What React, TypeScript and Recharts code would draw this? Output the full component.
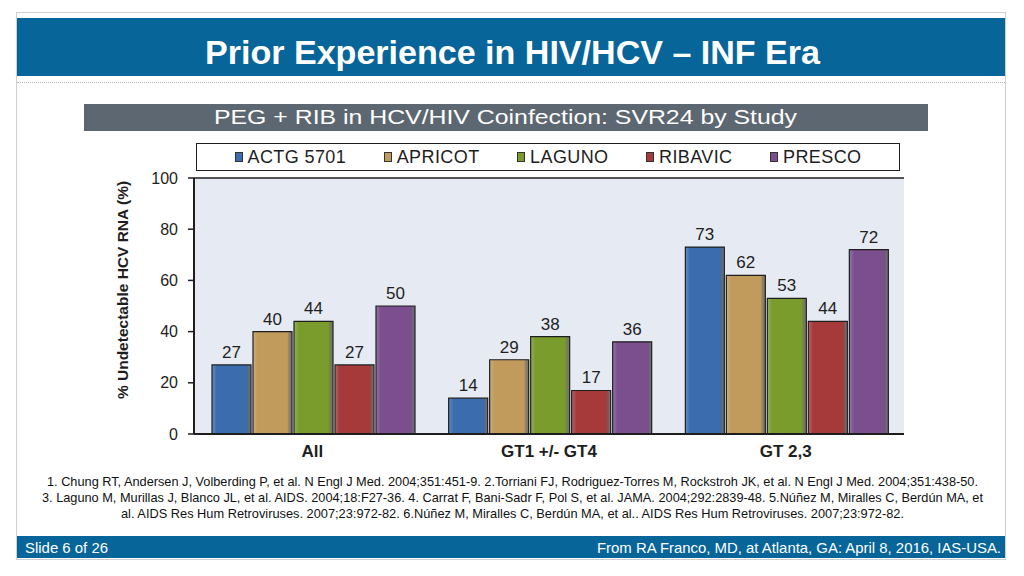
import { Bar, BarChart, CartesianGrid, LabelList, ReferenceLine, XAxis, YAxis } from "recharts";

// SVR24 by study, PEG + RIB in HCV/HIV coinfection
const categories = ["All", "GT1 +/- GT4", "GT 2,3"];
const studies = ["ACTG 5701", "APRICOT", "LAGUNO", "RIBAVIC", "PRESCO"];
const actg5701 = [27, 14, 73];
const apricot = [40, 29, 62];
const laguno = [44, 38, 53];
const ribavic = [27, 17, 44];
const presco = [50, 36, 72];
const yTicks = [0, 20, 40, 60, 80, 100];
const boundaryTicks = [0, 1, 2, 3];

const refs = [
  "1. Chung RT, Andersen J, Volberding P, et al. N Engl J Med. 2004;351:451-9. 2.Torriani FJ, Rodriguez-Torres M, Rockstroh JK, et al. N Engl J Med. 2004;351:438-50.",
  "3. Laguno M, Murillas J, Blanco JL, et al. AIDS. 2004;18:F27-36. 4. Carrat F, Bani-Sadr F, Pol S, et al. JAMA. 2004;292:2839-48. 5.Núñez M, Miralles C, Berdún MA, et",
  "al. AIDS Res Hum Retroviruses. 2007;23:972-82. 6.Núñez M, Miralles C, Berdún MA, et al.. AIDS Res Hum Retroviruses. 2007;23:972-82.",
];
const refWidths = [931, 941, 783];

const COLORS = ["#3b6dae", "#c09b5c", "#7a9c2c", "#a63a3a", "#7b4f8e"];
const BLUE = "#07659a";
const INK = "#1e1e1e";
const SANS = "'Liberation Sans', Arial, sans-serif";

const seriesValues = [actg5701, apricot, laguno, ribavic, presco];
const keys = ["s0", "s1", "s2", "s3", "s4"];

const data = categories.map((name, i) => {
  const row: Record<string, string | number> = { name };
  seriesValues.forEach((vals, k) => {
    row[keys[k]] = vals[i];
  });
  return row;
});

function YTitle(props: any) {
  const vb = props.viewBox || { x: 0, y: 0, width: 0, height: 0 };
  const x = vb.x - 12;
  const y = vb.y + vb.height / 2 - 16;
  return (
    <text
      x={x}
      y={y}
      transform={`rotate(-90 ${x} ${y})`}
      textAnchor="middle"
      dominantBaseline="central"
      fontSize={15.5}
      fontWeight="bold"
      fill={INK}
      fontFamily={SANS}
    >
      % Undetectable HCV RNA (%)
    </text>
  );
}

function Legend() {
  return (
    <div
      style={{
        position: "absolute",
        left: 196,
        top: 143,
        width: 704,
        height: 28,
        boxSizing: "border-box",
        border: `1.5px solid ${INK}`,
        background: "#fff",
        display: "flex",
        alignItems: "center",
        justifyContent: "space-evenly",
        fontFamily: SANS,
        fontSize: 18,
        letterSpacing: 0.4,
        color: INK,
      }}
    >
      {studies.map((s, i) => (
        <span key={s} style={{ display: "flex", alignItems: "center" }}>
          <span
            style={{
              width: 8,
              height: 10,
              marginRight: 5,
              background: COLORS[i],
              border: "1px solid #333",
              boxSizing: "border-box",
            }}
          />
          {s}
        </span>
      ))}
    </div>
  );
}

export default function App() {
  return (
    <div
      style={{
        position: "absolute",
        left: 0,
        top: 0,
        width: 1024,
        height: 576,
        background: "#fff",
        overflow: "hidden",
        fontFamily: SANS,
      }}
    >
      {/* slide frame */}
      <div
        style={{
          position: "absolute",
          left: 16,
          top: 12,
          width: 990,
          height: 548,
          border: "1px solid #cfcfcf",
          boxSizing: "border-box",
        }}
      />
      <div style={{ position: "absolute", left: 17, top: 18, width: 988, height: 58, background: BLUE }} />
      <div
        style={{
          position: "absolute",
          left: 17,
          top: 82,
          width: 988,
          borderTop: "1px dotted #b5b5b5",
        }}
      />
      <div style={{ position: "absolute", left: 84, top: 104, width: 844, height: 27, background: "#5d6771" }} />
      <div style={{ position: "absolute", left: 17, top: 536, width: 988, height: 22, background: BLUE }} />

      <div style={{ position: "absolute", left: 84, top: 131 }}>
        <BarChart
          width={844}
          height={339}
          data={data}
          margin={{ top: 47, right: 24, left: 50, bottom: 6 }}
          barCategoryGap={18}
          barGap={2}
        >
          <defs>
            {COLORS.map((c, i) => (
              <linearGradient key={c} id={`bar${i}`} x1="0" y1="0" x2="1" y2="0">
                <stop offset="0" stopColor={c} stopOpacity={0.75} />
                <stop offset="0.12" stopColor={c} />
                <stop offset="0.88" stopColor={c} />
                <stop offset="1" stopColor="#222" stopOpacity={0.55} />
              </linearGradient>
            ))}
          </defs>
          <CartesianGrid fill="#e6eaf2" horizontal={false} vertical={false} />
          <XAxis
            xAxisId="bounds"
            type="number"
            domain={[0, 3]}
            ticks={boundaryTicks}
            height={0}
            tick={false}
            axisLine={false}
            tickLine={{ stroke: INK, strokeWidth: 1.5 }}
            tickSize={5}
          />
          <XAxis
            xAxisId="cat"
            dataKey="name"
            height={30}
            tickLine={false}
            axisLine={{ stroke: INK, strokeWidth: 2 }}
            tick={{ fill: INK, fontSize: 17, fontWeight: "bold", fontFamily: SANS }}
            tickMargin={5}
          />
          <YAxis
            domain={[0, 100]}
            ticks={yTicks}
            width={60}
            tickSize={6}
            tickMargin={10}
            axisLine={{ stroke: INK, strokeWidth: 2 }}
            tickLine={{ stroke: INK, strokeWidth: 1.5 }}
            tick={{ fill: INK, fontSize: 16, fontFamily: SANS }}
            label={<YTitle />}
          />
          <ReferenceLine y={100} xAxisId="cat" stroke={INK} strokeWidth={1.5} />
          <ReferenceLine x={3} xAxisId="bounds" stroke={INK} strokeWidth={2} />
          {keys.map((k, i) => (
            <Bar
              key={k}
              dataKey={k}
              xAxisId="cat"
              fill={`url(#bar${i})`}
              stroke={INK}
              strokeWidth={1.2}
              isAnimationActive={false}
            >
              <LabelList
                dataKey={k}
                position="top"
                offset={7}
                fill={INK}
                fontSize={17}
                fontFamily={SANS}
              />
            </Bar>
          ))}
        </BarChart>
      </div>
      <Legend />

      {/* slide texts */}
      <svg
        width={1024}
        height={576}
        style={{ position: "absolute", left: 0, top: 0, pointerEvents: "none" }}
        fontFamily={SANS}
      >
        <text
          x={512.5}
          y={64}
          textAnchor="middle"
          fontSize={34}
          fontWeight="bold"
          fill="#fff"
          textLength={615}
          lengthAdjust="spacingAndGlyphs"
        >
          Prior Experience in HIV/HCV – INF Era
        </text>
        <text
          x={505.5}
          y={124}
          textAnchor="middle"
          fontSize={21}
          fill="#fff"
          textLength={583}
          lengthAdjust="spacingAndGlyphs"
        >
          PEG + RIB in HCV/HIV Coinfection: SVR24 by Study
        </text>
        {refs.map((line, i) => (
          <text
            key={i}
            x={512.5}
            y={486 + i * 16}
            textAnchor="middle"
            fontSize={13}
            fill="#111"
            textLength={refWidths[i]}
            lengthAdjust="spacingAndGlyphs"
          >
            {line}
          </text>
        ))}
        <text x={25} y={553} fontSize={14} fill="#fff" textLength={83} lengthAdjust="spacingAndGlyphs">
          Slide 6 of 26
        </text>
        <text x={597} y={553} fontSize={14} fill="#fff" textLength={404} lengthAdjust="spacingAndGlyphs">
          From RA Franco, MD, at Atlanta, GA: April 8, 2016, IAS-USA.
        </text>
      </svg>
    </div>
  );
}
